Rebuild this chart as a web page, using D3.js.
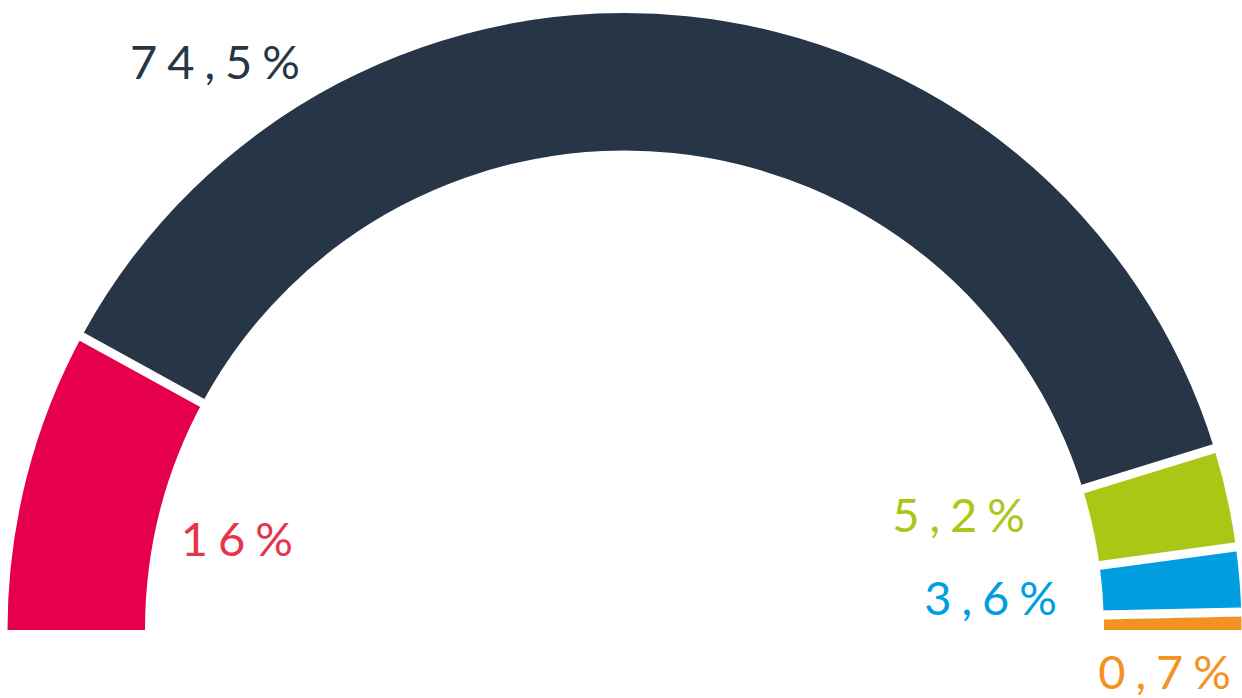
<!DOCTYPE html>
<html>
<head>
<meta charset="utf-8">
<script src="https://cdn.jsdelivr.net/npm/d3@7"></script>
<style>
  body { margin: 0; background: #fff; }
  .lbl { font-family: Lato, "Open Sans", sans-serif; font-size: 47px; font-weight: 400; letter-spacing: 10px; }
</style>
</head>
<body>
<div id="chart"></div>
<script>
// values in percent, left to right
var parties = ['a', 'b', 'c', 'd', 'e'];
var shares = [16, 74.5, 5.2, 3.6, 0.7];
var labels = ['16%', '74,5%', '5,2%', '3,6%', '0,7%'];
var colors = ['#e6004c', '#263646', '#acc616', '#009ee0', '#f39220'];
var textColors = ['#e5344b', '#263646', '#acc616', '#009ee0', '#f39220'];

// label anchor points (right edge of text, baseline)
var labelPos = [[293, 556], [300, 79], [1025, 532], [1057, 615], [1231, 689]];
// how far each separator is pushed into the slice before it (0 = centred)
var sepShift = [1, 0, 0, 1];

var W = 1242, H = 698;
var cx = 624.5, cy = 630;
var rOut = 617, rIn = 479.5;
var gap = 9;

var svg = d3.select('#chart').append('svg')
    .attr('width', W)
    .attr('height', H);

var g = svg.append('g')
    .attr('transform', 'translate(' + cx + ',' + cy + ')');

var pie = d3.pie()
    .sort(null)
    .startAngle(-Math.PI / 2)
    .endAngle(Math.PI / 2)
    .value(function(d) { return d; });

var arcs = pie(shares);

var arc = d3.arc()
    .innerRadius(rIn)
    .outerRadius(rOut);

g.selectAll('path')
    .data(arcs)
    .enter()
    .append('path')
    .attr('d', arc)
    .attr('fill', function(d, i) { return colors[i]; });

// white separators between slices
function sepPt(a, r, k) {
    var o = gap / 2 * k;
    return [r * Math.sin(a) - o * Math.cos(a), -r * Math.cos(a) - o * Math.sin(a)];
}

g.selectAll('line.sep')
    .data(arcs.slice(1))
    .enter()
    .append('line')
    .attr('class', 'sep')
    .attr('x1', function(d, i) { return sepPt(d.startAngle, rIn - 5, sepShift[i])[0]; })
    .attr('y1', function(d, i) { return sepPt(d.startAngle, rIn - 5, sepShift[i])[1]; })
    .attr('x2', function(d, i) { return sepPt(d.startAngle, rOut + 5, sepShift[i])[0]; })
    .attr('y2', function(d, i) { return sepPt(d.startAngle, rOut + 5, sepShift[i])[1]; })
    .attr('stroke', '#fff')
    .attr('stroke-width', gap);

// labels
svg.selectAll('text.lbl')
    .data(labels)
    .enter()
    .append('text')
    .attr('class', 'lbl')
    .attr('x', function(d, i) { return labelPos[i][0] + 10; })
    .attr('y', function(d, i) { return labelPos[i][1]; })
    .attr('text-anchor', 'end')
    .style('fill', function(d, i) { return textColors[i]; })
    .text(function(d) { return d; });
</script>
</body>
</html>
